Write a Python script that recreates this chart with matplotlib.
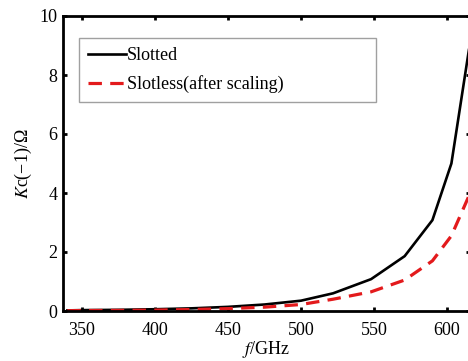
import matplotlib
matplotlib.use("Agg")
import matplotlib.pyplot as plt

# frequency (GHz) and coupling impedance values
freq = [340, 350, 375, 400, 425, 450, 475, 500, 522, 548, 571, 590, 603, 615]
slotted = [0.02, 0.03, 0.04, 0.06, 0.09, 0.14, 0.22, 0.35, 0.60, 1.08, 1.86, 3.08, 5.00, 8.85]
slotless = [0.01, 0.015, 0.02, 0.03, 0.05, 0.08, 0.13, 0.22, 0.40, 0.65, 1.05, 1.70, 2.55, 3.90]

x_ticks = [350, 400, 450, 500, 550, 600]
y_ticks = [0, 2, 4, 6, 8, 10]

plt.rcParams["font.family"] = ["Liberation Serif", "DejaVu Serif"]
plt.rcParams["mathtext.fontset"] = "stix"

fig = plt.figure(figsize=(4.68, 3.61), dpi=100)
ax = fig.add_axes([63 / 468, 1 - 311 / 361, 406.5 / 468, 295 / 361])

ax.plot(freq, slotted, color="black", linewidth=1.9, label="Slotted")
ax.plot(freq, slotless, color="#e31a1c", linewidth=2.3,
        linestyle=(0, (4.2, 2.6)), label="Slotless(after scaling)")

ax.set_xlim(337, 615.4)
ax.set_ylim(0, 10)
ax.set_xticks(x_ticks)
ax.set_yticks(y_ticks)
ax.tick_params(direction="in", length=3, width=2, labelsize=13,
               top=True, right=True, pad=4)
ax.tick_params(axis="x", pad=8)
for side in ax.spines.values():
    side.set_linewidth(2)

ax.set_xlabel("$f$/GHz", fontsize=13, labelpad=0)
ax.set_ylabel("$K$c(−1)/Ω", fontsize=13, labelpad=4)

leg = ax.legend(loc="upper left", bbox_to_anchor=(0.039, 0.708, 0.73, 0.217),
                mode="expand", borderaxespad=0, fontsize=13, handlelength=2.1,
                handletextpad=0.05, labelspacing=0.6, fancybox=False,
                framealpha=1, edgecolor="#a0a0a0", borderpad=0.5)
leg.get_frame().set_linewidth(1.0)

fig.savefig("out.png", dpi=100)
